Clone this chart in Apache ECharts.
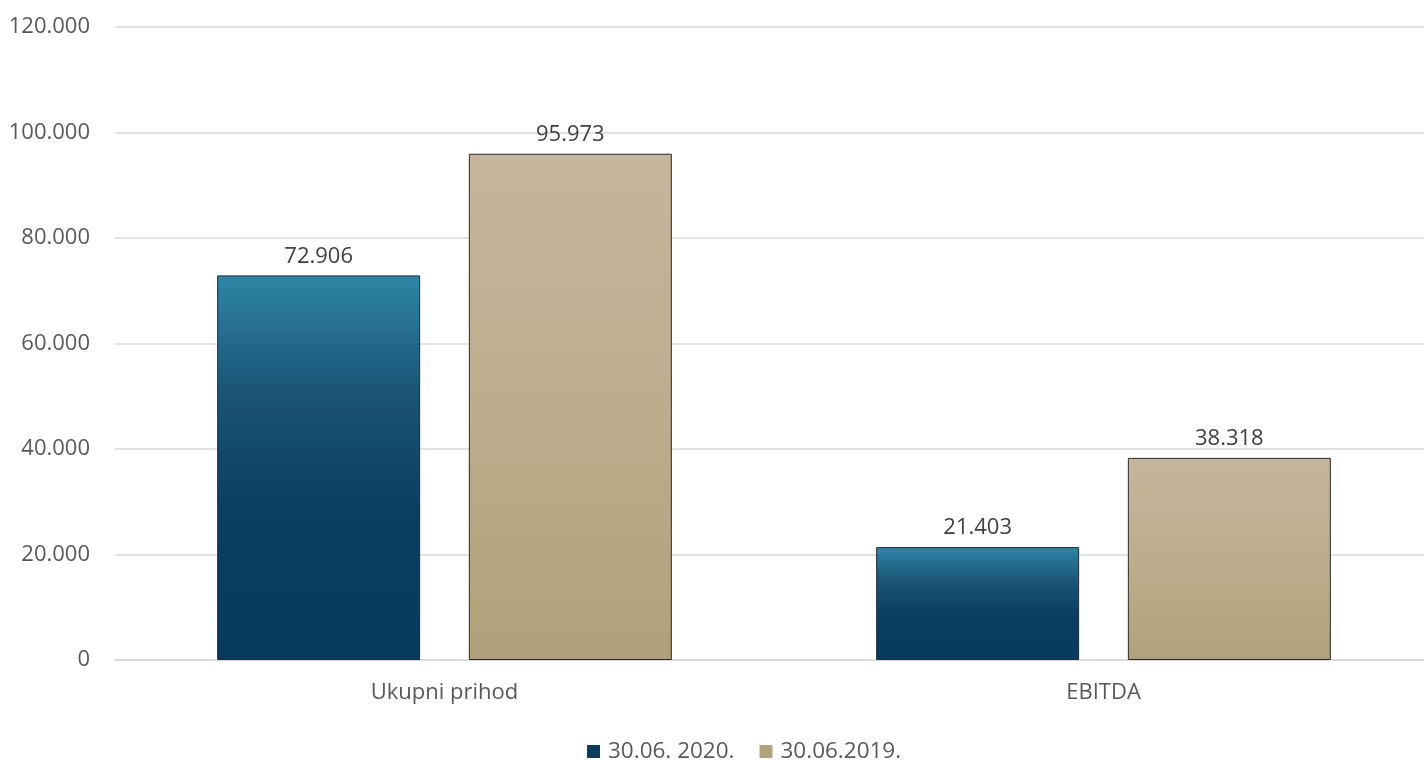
<!DOCTYPE html>
<html><head><meta charset="utf-8">
<script src="https://cdn.jsdelivr.net/npm/echarts@6/dist/echarts.min.js"></script>
<style>html,body{margin:0;padding:0;background:#fff;overflow:hidden}#c{width:1433px;height:760px}</style>
</head><body><div id="c"></div>
<script>
const categories = ['Ukupni prihod', 'EBITDA'];
const series2020 = [72906, 21403];
const series2019 = [95973, 38318];
const seriesNames = ['30.06. 2020.', '30.06.2019.'];
const yTicks = {min: 0, max: 120000, interval: 20000};

function fmt(v){ return String(Math.round(v)).replace(/\B(?=(\d{3})+(?!\d))/g, '.'); }

const chart = echarts.init(document.getElementById('c'));
const font = '"Open Sans", "Noto Sans", sans-serif';
chart.setOption({
  animation: false,
  textStyle: {fontFamily: font},
  grid: {left: 115, right: 0, top: 27, bottom: 100, containLabel: false},
  legend: {
    top: 735, left: 582, itemWidth: 13, itemHeight: 13, itemGap: 25,
    icon: 'rect',
    textStyle: {fontFamily: font, fontSize: 22.5, color: '#595959', padding: [0, 0, 0, 3]},
    data: [
      {name: seriesNames[0], itemStyle: {color: '#0B3B5E', borderWidth: 0}},
      {name: seriesNames[1], itemStyle: {color: '#B1A47B', borderWidth: 0}}
    ]
  },
  xAxis: {
    type: 'category', data: categories,
    axisLine: {lineStyle: {color: '#d9d9d9', width: 1.5}},
    axisTick: {show: false},
    axisLabel: {color: '#595959', fontSize: 22, margin: 22, fontFamily: font}
  },
  yAxis: {
    type: 'value', min: yTicks.min, max: yTicks.max, interval: yTicks.interval,
    axisLine: {show: false}, axisTick: {show: false},
    splitLine: {lineStyle: {color: '#d9d9d9', width: 1.5}},
    axisLabel: {color: '#595959', fontSize: 22, margin: 25, fontFamily: font, formatter: fmt}
  },
  series: [
    {
      name: seriesNames[0], type: 'bar', data: series2020,
      barWidth: '30.8%', barGap: '24%',
      itemStyle: {
        borderColor: '#1f2a33', borderWidth: 1,
        color: new echarts.graphic.LinearGradient(0, 0, 0, 1, [
          {offset: 0, color: '#2F86A5'},
          {offset: 0.3, color: '#1A5577'},
          {offset: 0.6, color: '#0B3E63'},
          {offset: 1, color: '#073A5E'}
        ])
      },
      label: {show: true, position: 'top', distance: 8, color: '#404040', fontSize: 22, fontFamily: font, formatter: p => fmt(p.value)}
    },
    {
      name: seriesNames[1], type: 'bar', data: series2019,
      barWidth: '30.8%',
      itemStyle: {
        borderColor: '#2a2a2a', borderWidth: 1,
        color: new echarts.graphic.LinearGradient(0, 0, 0, 1, [
          {offset: 0, color: '#C5B59C'},
          {offset: 0.5, color: '#BCAE8D'},
          {offset: 1, color: '#AFA27A'}
        ])
      },
      label: {show: true, position: 'top', distance: 8, color: '#404040', fontSize: 22, fontFamily: font, formatter: p => fmt(p.value)}
    }
  ]
});
</script></body></html>
